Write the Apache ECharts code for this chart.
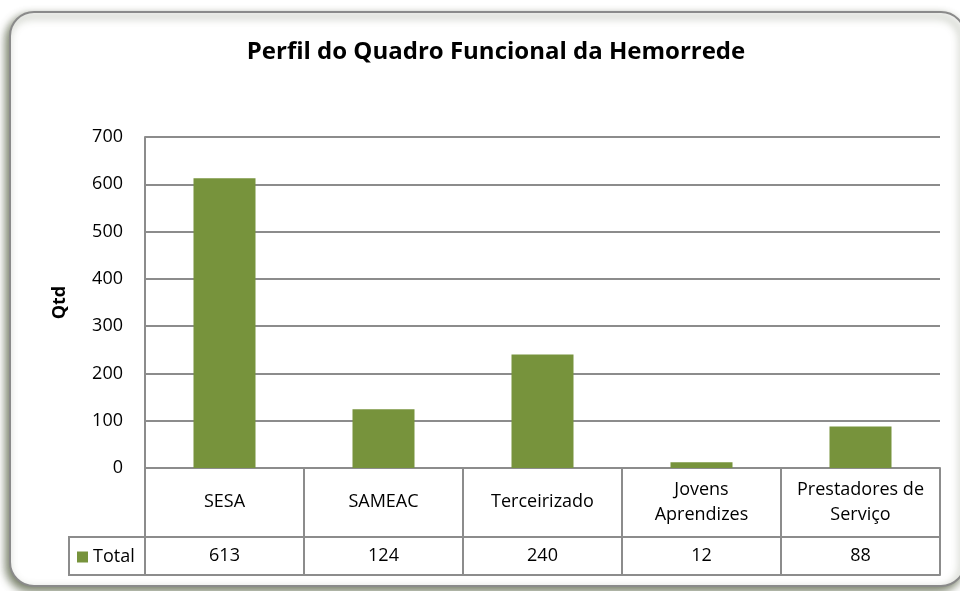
<!DOCTYPE html>
<html>
<head>
<meta charset="utf-8">
<script src="https://cdn.jsdelivr.net/npm/echarts@6/dist/echarts.min.js"></script>
<style>html,body{margin:0;padding:0;background:#fff;}#c{width:960px;height:591px;}</style>
</head>
<body>
<div id="c"></div>
<script>
const categories = ['SESA', 'SAMEAC', 'Terceirizado', 'Jovens\nAprendizes', 'Prestadores de\nServiço'];
const totals = [613, 124, 240, 12, 88];
const yTicks = [0, 100, 200, 300, 400, 500, 600, 700];
const seriesName = 'Total';
const titleText = 'Perfil do Quadro Funcional da Hemorrede';

const FONT = '"Open Sans", sans-serif';
const GRAY = '#8c8c8c';
const chart = echarts.init(document.getElementById('c'));
chart.setOption({
  backgroundColor: '#fff',
  animation: false,
  title: {
    text: titleText, left: 491, top: 35, textAlign: 'center',
    textStyle: { fontFamily: FONT, fontSize: 24, fontWeight: 'bold', color: '#000' }
  },
  legend: {
    data: [seriesName], left: 77, top: 548, padding: 0, icon: 'rect', itemWidth: 11, itemHeight: 11, itemGap: 4,
    textStyle: { fontFamily: FONT, fontSize: 18, color: '#000', lineHeight: 14 }
  },
  grid: { left: 145, right: 20, top: 137, bottom: 123 },
  xAxis: [
    {
      type: 'category', data: categories, position: 'bottom',
      axisLine: { show: true, lineStyle: { color: GRAY, width: 2 } },
      axisTick: { show: true, interval: 0, length: 107, lineStyle: { color: GRAY, width: 2 } },
      axisLabel: { interval: 0, margin: 34, verticalAlign: 'middle', lineHeight: 25,
        fontFamily: FONT, fontSize: 18, color: '#000' }
    },
    {
      type: 'category', data: totals.map(String), position: 'bottom', offset: 69,
      axisLine: { show: true, lineStyle: { color: GRAY, width: 2 } },
      axisTick: { show: false },
      axisLabel: { interval: 0, margin: 19, verticalAlign: 'middle', fontFamily: FONT, fontSize: 18, color: '#000' }
    },
    {
      type: 'category', data: categories, position: 'bottom', offset: 107,
      axisLine: { show: true, lineStyle: { color: GRAY, width: 2 } },
      axisTick: { show: false }, axisLabel: { show: false }
    }
  ],
  yAxis: {
    type: 'value', min: yTicks[0], max: yTicks[yTicks.length - 1], interval: 100,
    name: 'Qtd', nameLocation: 'middle', nameGap: 76, nameRotate: 90,
    nameTextStyle: { fontFamily: FONT, fontSize: 18, fontWeight: 'bold', color: '#000' },
    axisLine: { show: true, lineStyle: { color: GRAY, width: 2 } },
    axisTick: { show: false },
    axisLabel: { margin: 22, fontFamily: FONT, fontSize: 18, color: '#000' },
    splitLine: { show: true, lineStyle: { color: GRAY, width: 2 } }
  },
  series: [{
    name: seriesName, type: 'bar', data: totals, barWidth: '39%',
    itemStyle: { color: '#77933C' }
  }],
  graphic: [
    { type: 'rect', z: -10, silent: true,
      shape: { x: 10, y: 12, width: 955, height: 574, r: 24 },
      style: { fill: '#fff', stroke: '#8a8a8a', lineWidth: 2,
        shadowColor: 'rgba(70,80,50,0.75)', shadowBlur: 8, shadowOffsetX: -3, shadowOffsetY: 4 } },
    { type: 'polyline', z: 10, silent: true,
      shape: { points: [[146, 537], [69, 537], [69, 575], [146, 575]] },
      style: { fill: null, stroke: GRAY, lineWidth: 2 } }
  ]
});
</script>
</body>
</html>
